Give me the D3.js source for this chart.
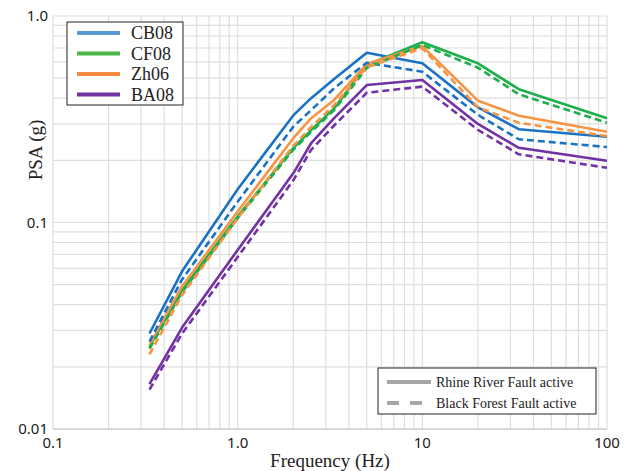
<!DOCTYPE html>
<html>
<head>
    <meta charset="utf-8">
    <title>PSA spectra</title>
    <script src="https://cdn.jsdelivr.net/npm/d3@7"></script>
    <style>
        body { margin: 0; background: #fff; }
        svg { display: block; }
    </style>
</head>
<body>
    <svg width="632" height="471" id="mainsvg"></svg>
    <script>
        // frequencies (Hz)
        const freqs = [0.333, 0.5, 1, 2, 2.5, 3.33, 5, 10, 20, 33.3, 100];

        // PSA (g), Rhine River Fault active (solid)
        const cb08Rhine = [0.029, 0.058, 0.145, 0.33, 0.40, 0.495, 0.664, 0.59, 0.361, 0.283, 0.26];
        const cf08Rhine = [0.025, 0.047, 0.107, 0.229, 0.28, 0.357, 0.58, 0.746, 0.59, 0.442, 0.32];
        const zh06Rhine = [0.0255, 0.049, 0.113, 0.256, 0.32, 0.392, 0.585, 0.715, 0.389, 0.329, 0.275];
        const ba08Rhine = [0.0165, 0.031, 0.0736, 0.173, 0.242, 0.32, 0.463, 0.49, 0.30, 0.23, 0.199];

        // PSA (g), Black Forest Fault active (dashed)
        const cb08Black = [0.0265, 0.053, 0.126, 0.291, 0.35, 0.447, 0.594, 0.537, 0.332, 0.253, 0.232];
        const cf08Black = [0.0245, 0.046, 0.105, 0.225, 0.275, 0.35, 0.56, 0.724, 0.562, 0.418, 0.304];
        const zh06Black = [0.023, 0.0445, 0.105, 0.235, 0.29, 0.37, 0.565, 0.698, 0.361, 0.304, 0.262];
        const ba08Black = [0.0155, 0.029, 0.068, 0.16, 0.225, 0.295, 0.425, 0.455, 0.281, 0.214, 0.184];

        const models = ['CB08', 'CF08', 'Zh06', 'BA08'];
        const xTicks = [0.1, 1, 10, 100];
        const xTickLabels = ['0.1', '1.0', '10', '100'];
        const yTicks = [0.01, 0.1, 1];
        const yTickLabels = ['0.01', '0.1', '1.0'];

        const colors = { CB08: '#1a72c4', CF08: '#1fae4c', Zh06: '#f79443', BA08: '#7332a3' };
        const legendColors = { CB08: '#5b9bd5', CF08: '#4cb848', Zh06: '#f58a3f', BA08: '#7332a3' };

        const series = [
            { model: 'CB08', dashed: false, values: cb08Rhine },
            { model: 'CF08', dashed: false, values: cf08Rhine },
            { model: 'Zh06', dashed: false, values: zh06Rhine },
            { model: 'BA08', dashed: false, values: ba08Rhine },
            { model: 'CB08', dashed: true, values: cb08Black },
            { model: 'CF08', dashed: true, values: cf08Black },
            { model: 'Zh06', dashed: true, values: zh06Black },
            { model: 'BA08', dashed: true, values: ba08Black }
        ];

        const svg = d3.select('#mainsvg');
        const margin = { top: 16, right: 25, bottom: 42, left: 53 };
        const width = +svg.attr('width');
        const height = +svg.attr('height');

        const xScale = d3.scaleLog()
            .domain([0.1, 100])
            .range([margin.left, width - margin.right]);
        const yScale = d3.scaleLog()
            .domain([0.01, 1])
            .range([height - margin.bottom, margin.top]);

        // grid
        const grid = svg.append('g').attr('id', 'grid');
        grid.selectAll('.vgrid').data(xScale.ticks())
            .join('line')
            .attr('class', 'vgrid')
            .attr('x1', d => xScale(d)).attr('x2', d => xScale(d))
            .attr('y1', yScale(1)).attr('y2', yScale(0.01))
            .attr('stroke', '#dedede')
            .attr('stroke-width', 1.2);
        grid.selectAll('.hgrid').data(yScale.ticks())
            .join('line')
            .attr('class', 'hgrid')
            .attr('x1', xScale(0.1)).attr('x2', xScale(100))
            .attr('y1', d => yScale(d)).attr('y2', d => yScale(d))
            .attr('stroke', '#dedede')
            .attr('stroke-width', 1.2);

        // bottom axis line
        svg.append('line')
            .attr('x1', xScale(0.1)).attr('x2', xScale(100))
            .attr('y1', yScale(0.01)).attr('y2', yScale(0.01))
            .attr('stroke', '#d0d0d0')
            .attr('stroke-width', 1.5);

        // tick labels
        svg.append('g').selectAll('text').data(xTicks)
            .join('text')
            .attr('x', d => xScale(d))
            .attr('y', yScale(0.01) + 19)
            .attr('text-anchor', 'middle')
            .attr('font-family', '"Noto Sans", "Open Sans", sans-serif')
            .attr('font-size', 15)
            .attr('fill', '#222')
            .text((d, i) => xTickLabels[i]);

        svg.append('g').selectAll('text').data(yTicks)
            .join('text')
            .attr('x', margin.left - 5)
            .attr('y', d => yScale(d) + 5)
            .attr('text-anchor', 'end')
            .attr('font-family', '"Noto Sans", "Open Sans", sans-serif')
            .attr('font-size', 15)
            .attr('fill', '#222')
            .text((d, i) => yTickLabels[i]);

        // axis titles
        svg.append('text')
            .attr('x', 330)
            .attr('y', 467)
            .attr('text-anchor', 'middle')
            .attr('font-family', '"Liberation Serif", "Times New Roman", serif')
            .attr('font-size', 19)
            .attr('fill', '#222')
            .text('Frequency (Hz)');

        svg.append('text')
            .attr('transform', 'translate(42, 150) rotate(-90)')
            .attr('text-anchor', 'middle')
            .attr('font-family', '"Liberation Serif", "Times New Roman", serif')
            .attr('font-size', 19)
            .attr('fill', '#222')
            .text('PSA (g)');

        // data lines
        const line = d3.line()
            .x((d, i) => xScale(freqs[i]))
            .y(d => yScale(d));

        const lineGroup = svg.append('g').attr('id', 'lines');
        lineGroup.selectAll('path').data(series)
            .join('path')
            .attr('d', d => line(d.values))
            .attr('fill', 'none')
            .attr('stroke', d => colors[d.model])
            .attr('stroke-width', 2.6)
            .attr('stroke-linejoin', 'round')
            .attr('stroke-dasharray', d => d.dashed ? '7,4' : null);

        // model legend
        const leg1 = svg.append('g').attr('transform', 'translate(67, 22)');
        leg1.append('rect')
            .attr('width', 116).attr('height', 83)
            .attr('fill', '#fff')
            .attr('stroke', '#222')
            .attr('stroke-width', 1);
        const leg1Items = leg1.selectAll('.item').data(models)
            .join('g')
            .attr('class', 'item')
            .attr('transform', (d, i) => `translate(0, ${11 + i * 20.5})`);
        leg1Items.append('line')
            .attr('x1', 10).attr('x2', 53)
            .attr('stroke', d => legendColors[d])
            .attr('stroke-width', 4);
        leg1Items.append('text')
            .attr('x', 64).attr('y', 6)
            .attr('font-family', '"Liberation Serif", "Times New Roman", serif')
            .attr('font-size', 18)
            .attr('fill', '#222')
            .text(d => d);

        // scenario legend
        const scenarios = ['Rhine River Fault active', 'Black Forest Fault active'];
        const leg2 = svg.append('g').attr('transform', 'translate(378, 368)');
        leg2.append('rect')
            .attr('width', 218).attr('height', 46)
            .attr('fill', '#fff')
            .attr('stroke', '#222')
            .attr('stroke-width', 1);
        const leg2Items = leg2.selectAll('.item').data(scenarios)
            .join('g')
            .attr('class', 'item')
            .attr('transform', (d, i) => `translate(0, ${14 + i * 21})`);
        leg2Items.append('line')
            .attr('x1', 9).attr('x2', 53)
            .attr('stroke', '#a6a6a6')
            .attr('stroke-width', 4)
            .attr('stroke-dasharray', (d, i) => i === 1 ? '12,11' : null);
        leg2Items.append('text')
            .attr('x', 58).attr('y', 5)
            .attr('font-family', '"Liberation Serif", "Times New Roman", serif')
            .attr('font-size', 14)
            .attr('fill', '#222')
            .text(d => d);
    </script>
</body>
</html>
